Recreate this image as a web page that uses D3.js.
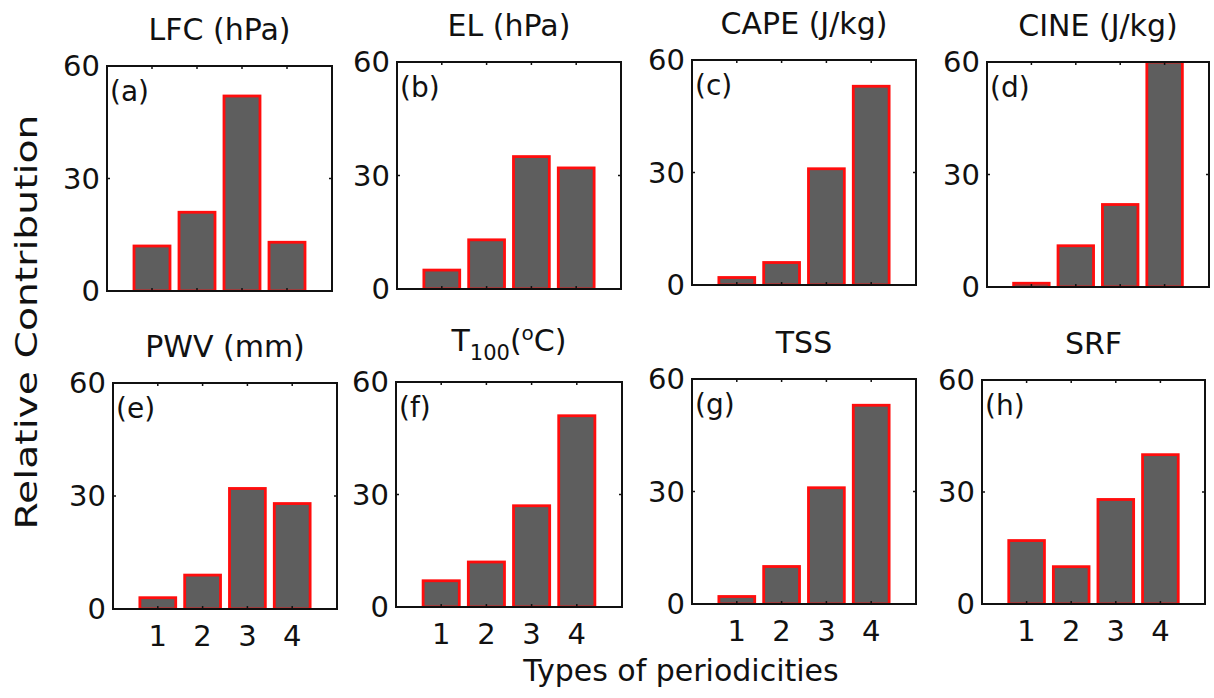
<!DOCTYPE html>
<html>
<head>
<meta charset="utf-8">
<script src="https://cdn.jsdelivr.net/npm/d3@7"></script>
<style>
  body { margin: 0; background: #fff; }
  text { font-family: "DejaVu Sans", Verdana, sans-serif; fill: #111; }
</style>
</head>
<body>
<div id="chart"></div>
<script>
// relative contribution (%) of each periodicity type, per variable
var types = [1, 2, 3, 4];
var yTicks = [0, 30, 60];
var lfc  = [12, 21, 52, 13];
var el   = [5, 13, 35, 32];
var cape = [2, 6, 31, 53];
var cine = [1, 11, 22, 60];
var pwv  = [3, 9, 32, 28];
var t100 = [7, 12, 27, 51];
var tss  = [2, 10, 31, 53];
var srf  = [17, 10, 28, 40];

var titles = ["LFC (hPa)", "EL (hPa)", "CAPE (J/kg)", "CINE (J/kg)", "PWV (mm)", "T100", "TSS", "SRF"];
var letters = ["(a)", "(b)", "(c)", "(d)", "(e)", "(f)", "(g)", "(h)"];
var series = [lfc, el, cape, cine, pwv, t100, tss, srf];

// panel boxes [left, top, right, bottom]
var boxes = [
    [107, 66, 332, 291], [397, 62, 621, 289], [692, 60, 916, 285], [987, 62, 1209, 287],
    [113, 383, 337, 609], [396, 382, 622, 607], [692, 379, 916, 604], [982, 380, 1205, 604]
];

var W = 1214, H = 698;
var svg = d3.select("#chart").append("svg")
    .attr("width", W)
    .attr("height", H);

var defs = svg.append("defs");

series.forEach(function (vals, k) {
    var b = boxes[k];
    var x = d3.scaleLinear().domain([0, 5]).range([b[0], b[2]]);
    var y = d3.scaleLinear().domain([0, 60]).range([b[3], b[1]]);
    var g = svg.append("g");

    defs.append("clipPath").attr("id", "clip" + k)
        .append("rect")
        .attr("x", b[0]).attr("y", b[1])
        .attr("width", b[2] - b[0]).attr("height", b[3] - b[1]);

    // bars
    g.append("g").attr("clip-path", "url(#clip" + k + ")")
        .selectAll("rect")
        .data(vals)
        .enter().append("rect")
        .attr("x", function (d, i) { return x(types[i] - 0.4); })
        .attr("width", function (d, i) { return x(types[i] + 0.4) - x(types[i] - 0.4); })
        .attr("y", function (d) { return y(d); })
        .attr("height", function (d) { return y(0) - y(d); })
        .attr("fill", "#5e5e5e")
        .attr("stroke", "#ff0d0d")
        .attr("stroke-width", 2.8);

    // frame
    g.append("rect")
        .attr("x", b[0]).attr("y", b[1])
        .attr("width", b[2] - b[0]).attr("height", b[3] - b[1])
        .attr("fill", "none")
        .attr("stroke", "#111")
        .attr("stroke-width", 2);

    // inner ticks
    var ax = g.append("g").attr("stroke", "#111").attr("stroke-width", 1.5);
    types.forEach(function (t) {
        ax.append("line").attr("x1", x(t)).attr("x2", x(t)).attr("y1", b[1]).attr("y2", b[1] + 3);
        ax.append("line").attr("x1", x(t)).attr("x2", x(t)).attr("y1", b[3]).attr("y2", b[3] - 3);
    });
    yTicks.forEach(function (t) {
        ax.append("line").attr("x1", b[0]).attr("x2", b[0] + 3).attr("y1", y(t)).attr("y2", y(t));
        ax.append("line").attr("x1", b[2]).attr("x2", b[2] - 3).attr("y1", y(t)).attr("y2", y(t));
    });

    // y tick labels
    g.selectAll(".ytl")
        .data(yTicks)
        .enter().append("text")
        .attr("x", b[0] - 7)
        .attr("y", function (d) { return y(d) + 2; })
        .attr("text-anchor", "end")
        .attr("dominant-baseline", "middle")
        .style("font-size", "29px")
        .text(function (d) { return d; });

    // x tick labels only on bottom row
    if (k >= 4) {
        g.selectAll(".xtl")
            .data(types)
            .enter().append("text")
            .attr("x", function (d) { return x(d); })
            .attr("y", b[3] + 37)
            .attr("text-anchor", "middle")
            .style("font-size", "29px")
            .text(function (d) { return d; });
    }

    // panel letter
    g.append("text")
        .attr("x", b[0] + 3)
        .attr("y", b[1] + 35)
        .style("font-size", "28px")
        .text(letters[k]);

    // title
    var cx = (b[0] + b[2]) / 2;
    var title = g.append("text")
        .attr("x", cx)
        .attr("y", b[1] - 26)
        .attr("text-anchor", "middle")
        .style("font-size", "30px");
    if (titles[k] == "T100") {
        title.append("tspan").text("T");
        title.append("tspan").attr("dy", 9).style("font-size", "21px").text("100");
        title.append("tspan").attr("dy", -9).text("(");
        title.append("tspan").attr("dy", -11).style("font-size", "20px").text("o");
        title.append("tspan").attr("dy", 11).text("C)");
        title.attr("y", b[1] - 31);
    } else {
        title.text(titles[k]);
    }
});

// shared axis labels
svg.append("text")
    .attr("transform", "translate(37,322) rotate(-90)")
    .attr("text-anchor", "middle")
    .attr("textLength", 415)
    .attr("lengthAdjust", "spacingAndGlyphs")
    .style("font-size", "30px")
    .text("Relative Contribution");

svg.append("text")
    .attr("x", 681)
    .attr("y", 681)
    .attr("text-anchor", "middle")
    .style("font-size", "30px")
    .text("Types of periodicities");
</script>
</body>
</html>
